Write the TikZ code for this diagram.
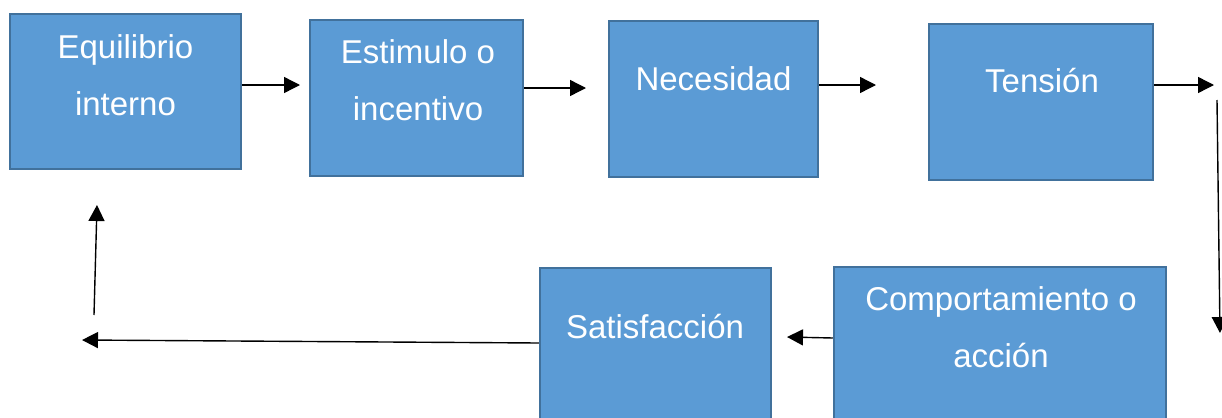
\documentclass[tikz,border=0pt]{standalone}
\usepackage{fontspec}
\setmainfont{Liberation Sans}
\usetikzlibrary{arrows.meta}
\definecolor{boxfill}{HTML}{5B9BD5}
\definecolor{boxline}{HTML}{41719C}
\begin{document}
\begin{tikzpicture}[x=0.5pt,y=-0.5pt,
  box/.style={draw=boxline, line width=1.25pt, fill=boxfill, rectangle, inner sep=0pt},
  lbl/.style={text=white, font=\fontsize{16.5pt}{28.5pt}\selectfont, align=center, anchor=base, inner sep=0pt},
  arr/.style={line width=0.7pt, -{Triangle[length=8pt,width=8pt]}}]
\useasboundingbox (0,0) rectangle (1222,418);
\clip (0,0) rectangle (1222,418);
\fill[white] (0,0) rectangle (1222,418);
% boxes
\node[box, minimum width=115.5pt, minimum height=77.5pt] (b1) at (125.5,91.5) {};
\node[box, minimum width=106.5pt, minimum height=78pt] (b2) at (416.5,98) {};
\node[box, minimum width=104.5pt, minimum height=78pt] (b3) at (713.5,99) {};
\node[box, minimum width=112pt, minimum height=78pt] (b4) at (1041,102) {};
\node[box, minimum width=166pt, minimum height=81.5pt] (b5) at (1000,348.5) {};
\node[box, minimum width=115.5pt, minimum height=81pt] (b6) at (655.5,349) {};
% labels (base anchor = last line's baseline)
\node[lbl] (t1) at (125.5,115) {Equilibrio\\interno};
\node[lbl] (t2) at (418,120) {Estimulo o\\incentivo};
\node[lbl] (t3) at (713.5,90) {Necesidad};
\node[lbl] (t4) at (1042,92) {Tensión};
\node[lbl] (t5) at (1001,367) {Comportamiento o\\acción};
\node[lbl] (t6) at (655,338) {Satisfacción};
% connector ends
\coordinate (c1) at (300,85);
\coordinate (c2) at (586,88);
\coordinate (c3) at (876,85);
\coordinate (c4) at (1214,85);
\coordinate (c5s) at (1217,100);
\coordinate (c5e) at (1220,333);
\coordinate (c6) at (787,337);
\coordinate (c7) at (82,340);
\coordinate (c8s) at (94,315);
\coordinate (c8e) at (97,205);
% connectors
\draw[arr] (b1.east |- c1) -- (c1);
\draw[arr] (b2.east |- c2) -- (c2);
\draw[arr] (b3.east |- c3) -- (c3);
\draw[arr] (b4.east |- c4) -- (c4);
\draw[arr] (c5s) -- (c5e);
\draw[arr] (b5.west |- 0,338) -- (c6);
\draw[arr] (b6.west |- 0,343) -- (c7);
\draw[arr] (c8s) -- (c8e);
\end{tikzpicture}
\end{document}
